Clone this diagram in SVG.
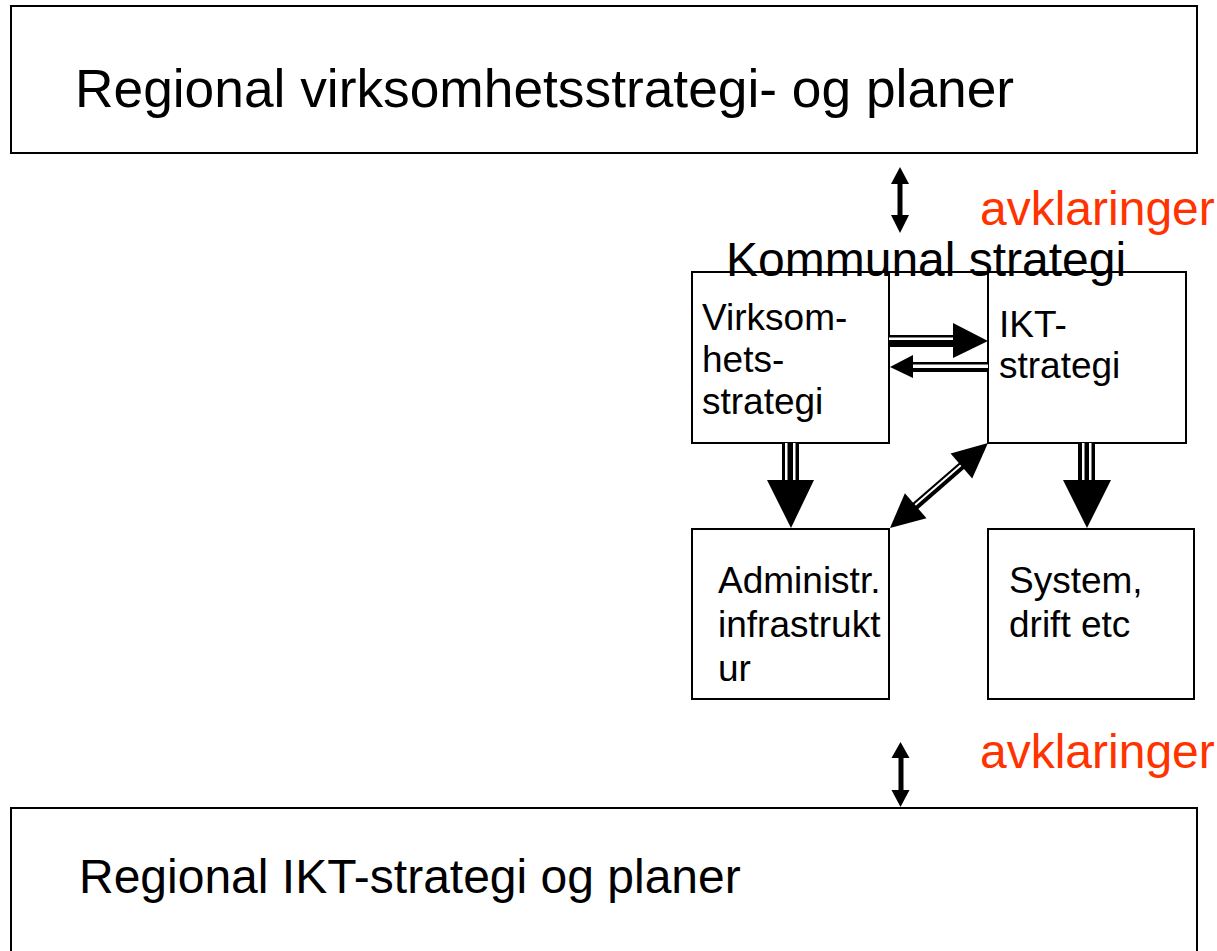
<svg xmlns="http://www.w3.org/2000/svg" width="1217" height="951" viewBox="0 0 1217 951">
<style>
.box{fill:#fff;stroke:#000;stroke-width:2}
.t{font-family:"Liberation Sans",Arial,sans-serif;fill:#000}
.big{font-size:53.3px}
.mid{font-size:48px}
.sm{font-size:37px}
.red{font-family:"Liberation Sans",Arial,sans-serif;font-size:48px;fill:#FF3300}
.blk{fill:#000}
.wht{fill:#fff}
</style>
<rect width="1217" height="951" fill="#fff"/>
<g id="regional-virksomhet">
<rect class="box" x="11" y="6" width="1186" height="147"/>
<text class="t big" x="75" y="107">Regional virksomhetsstrategi- og planer</text>
</g>
<g id="regional-ikt">
<rect class="box" x="11" y="808" width="1186" height="170"/>
<text class="t mid" x="79" y="893">Regional IKT-strategi og planer</text>
</g>
<g id="virksomhetsstrategi">
<rect class="box" x="692" y="272" width="197" height="171"/>
<text class="t sm" x="702" y="330">Virksom-</text>
<text class="t sm" x="702" y="372">hets-</text>
<text class="t sm" x="702" y="414">strategi</text>
</g>
<g id="ikt-strategi">
<rect class="box" x="988" y="272" width="198" height="171"/>
<text class="t sm" x="999" y="337">IKT-</text>
<text class="t sm" x="999" y="378">strategi</text>
</g>
<g id="administr">
<rect class="box" x="692" y="529" width="197" height="170"/>
<text class="t sm" x="718" y="593">Administr.</text>
<text class="t sm" x="718" y="637">infrastrukt</text>
<text class="t sm" x="718" y="681">ur</text>
</g>
<g id="system">
<rect class="box" x="988" y="529" width="206" height="170"/>
<text class="t sm" x="1009" y="593">System,</text>
<text class="t sm" x="1009" y="637">drift etc</text>
</g>
<g id="kommunal">
<line x1="692" y1="272" x2="1186" y2="272" stroke="#000" stroke-width="2"/>
<text class="t mid" x="726" y="276">Kommunal strategi</text>
</g>
<g id="labels">
<text class="red" x="980" y="225">avklaringer</text>
<text class="red" x="980" y="768">avklaringer</text>
</g>
<g id="connectors">
<rect class="blk" x="897.5" y="183" width="5" height="33"/>
<polygon class="blk" points="900,167 909,184 891,184"/>
<polygon class="blk" points="900,233 909,215 891,215"/>
<rect class="blk" x="898.5" y="757" width="5" height="34"/>
<polygon class="blk" points="900.5,742 909.5,758 891.5,758"/>
<polygon class="blk" points="900.5,807 909.5,790 891.5,790"/>
<rect class="blk" x="889" y="335" width="65" height="12"/>
<rect class="wht" x="889" y="337.5" width="64" height="2.5"/>
<polygon class="blk" points="953,323 988,341 953,358"/>
<rect class="blk" x="912" y="362" width="76" height="10"/>
<rect class="wht" x="913" y="364.5" width="75" height="3.5"/>
<polygon class="blk" points="890,367 913,355 913,378"/>
<rect class="blk" x="782" y="443" width="17" height="38"/>
<rect class="wht" x="785" y="443" width="2.5" height="37"/>
<rect class="wht" x="793" y="443" width="2.5" height="37"/>
<polygon class="blk" points="767,480 814,480 791,528"/>
<rect class="blk" x="1078" y="443" width="17" height="38"/>
<rect class="wht" x="1082" y="443" width="2.5" height="37"/>
<rect class="wht" x="1089" y="443" width="2.5" height="37"/>
<polygon class="blk" points="1063,480 1111,480 1087,528"/>
<g transform="translate(890,528) rotate(-40.94)">
<rect class="blk" x="33" y="-4" width="63" height="8"/>
<rect class="wht" x="34" y="-2" width="61" height="2"/>
<polygon class="blk" points="0,0 34,-16.5 34,16.5"/>
<polygon class="blk" points="129.7,0 94.5,-16.5 94.5,16.5"/>
</g>
</g>
</svg>
